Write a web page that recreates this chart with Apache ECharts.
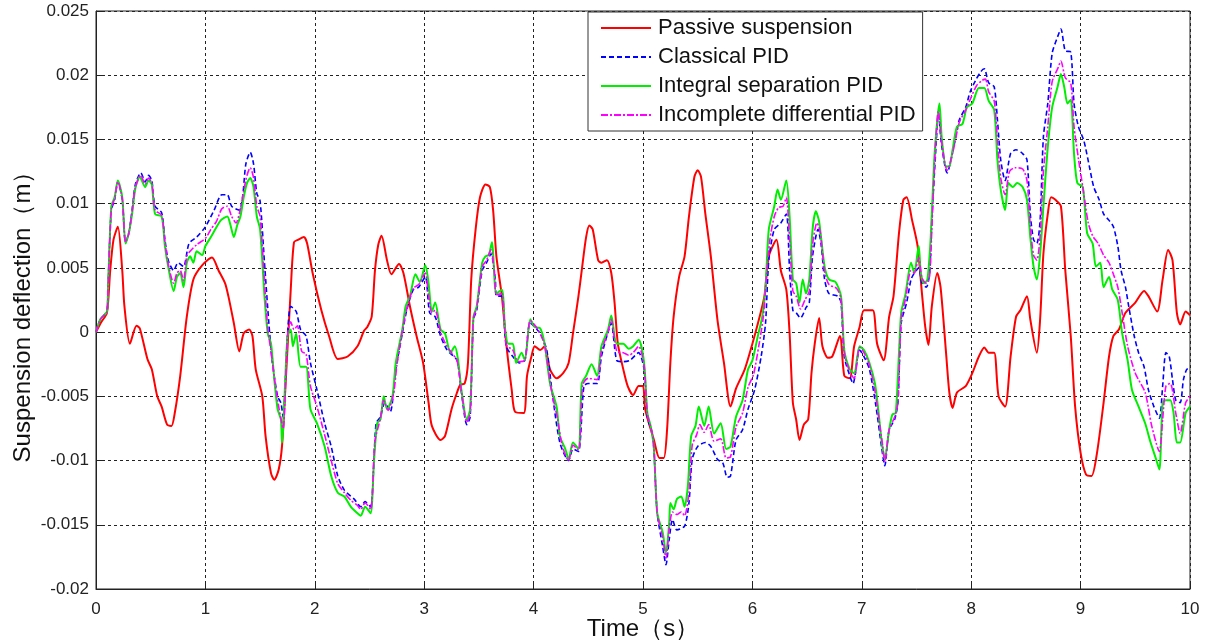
<!DOCTYPE html>
<html><head><meta charset="utf-8">
<script src="https://cdn.jsdelivr.net/npm/echarts@6/dist/echarts.min.js"></script>
<style>html,body{margin:0;padding:0;background:#fff}#c{width:1208px;height:643px}</style>
</head><body><div id="c"></div>
<script>
const seriesNames = ['Passive suspension','Classical PID','Integral separation PID','Incomplete differential PID'];
const xTicks = [0,1,2,3,4,5,6,7,8,9,10];
const yTicks = [-0.02,-0.015,-0.01,-0.005,0,0.005,0.01,0.015,0.02,0.025];

const passive = [[0,0],[0.05,0.0008],[0.1,0.0015],[0.13,0.0048],[0.16,0.0072],[0.2,0.0082],[0.24,0.0048],[0.26,0.002],[0.31,-0.0009],[0.37,0.0005],[0.4,0.0003],[0.47,-0.0021],[0.51,-0.0029],[0.56,-0.005],[0.6,-0.0058],[0.65,-0.0072],[0.69,-0.0073],[0.72,-0.0063],[0.77,-0.0034],[0.83,0.0012],[0.89,0.0041],[0.97,0.0052],[1.06,0.0058],[1.12,0.0048],[1.18,0.0038],[1.21,0.0028],[1.26,0.0007],[1.31,-0.0015],[1.35,-0.0001],[1.4,0.0002],[1.43,-0.0003],[1.46,-0.0029],[1.52,-0.005],[1.55,-0.0081],[1.6,-0.011],[1.63,-0.0115],[1.67,-0.0107],[1.7,-0.0089],[1.73,-0.0045],[1.78,0.0033],[1.81,0.007],[1.85,0.0072],[1.9,0.0074],[1.93,0.0069],[1.98,0.0046],[2.06,0.0017],[2.13,-0.0003],[2.21,-0.0021],[2.3,-0.0019],[2.39,-0.0011],[2.45,0.0001],[2.48,0.0004],[2.52,0.0012],[2.55,0.0048],[2.58,0.0068],[2.61,0.0075],[2.66,0.0056],[2.7,0.0045],[2.77,0.0053],[2.81,0.0046],[2.87,0.002],[2.93,-0.0003],[2.99,-0.0024],[3.04,-0.0055],[3.07,-0.0073],[3.15,-0.0084],[3.19,-0.0081],[3.25,-0.006],[3.3,-0.0047],[3.33,-0.0041],[3.37,-0.004],[3.4,-0.0024],[3.43,0.0041],[3.47,0.008],[3.51,0.0105],[3.56,0.0115],[3.6,0.0113],[3.63,0.0095],[3.66,0.0059],[3.71,0.0028],[3.75,-0.0009],[3.8,-0.0045],[3.83,-0.0062],[3.91,-0.0063],[3.94,-0.0034],[3.98,-0.0019],[4.01,-0.0011],[4.06,-0.0014],[4.1,-0.0011],[4.15,-0.0029],[4.21,-0.0036],[4.27,-0.0032],[4.32,-0.0024],[4.36,-0.0001],[4.41,0.0028],[4.44,0.0048],[4.48,0.0074],[4.51,0.0083],[4.54,0.008],[4.59,0.0056],[4.62,0.0054],[4.67,0.0056],[4.71,0.0046],[4.74,0.0023],[4.77,-0.0009],[4.82,-0.0029],[4.86,-0.0042],[4.91,-0.0049],[4.96,-0.0042],[5.0,-0.0042],[5.02,-0.006],[5.1,-0.0084],[5.15,-0.0098],[5.19,-0.0098],[5.22,-0.0076],[5.25,-0.0024],[5.28,0.0012],[5.33,0.0043],[5.38,0.0059],[5.42,0.009],[5.47,0.0121],[5.5,0.0126],[5.53,0.0121],[5.57,0.0092],[5.62,0.0059],[5.68,0.001],[5.74,-0.0024],[5.8,-0.0058],[5.85,-0.0044],[5.93,-0.0029],[6.0,-0.0009],[6.06,0.001],[6.11,0.0028],[6.15,0.0059],[6.22,0.0072],[6.26,0.0048],[6.31,0.0033],[6.34,-0.0001],[6.37,-0.0055],[6.4,-0.0068],[6.43,-0.0084],[6.47,-0.0072],[6.51,-0.0068],[6.54,-0.0032],[6.57,-0.0009],[6.61,0.0011],[6.64,-0.0011],[6.69,-0.002],[6.73,-0.0019],[6.8,-0.0003],[6.84,-0.0034],[6.89,-0.0036],[6.93,-0.0011],[6.98,0.0004],[7.02,0.0017],[7.1,0.0017],[7.14,-0.0009],[7.2,-0.0022],[7.25,0.0012],[7.29,0.0028],[7.34,0.0077],[7.38,0.0103],[7.41,0.0105],[7.46,0.0087],[7.51,0.0067],[7.55,0.003],[7.58,0.0004],[7.61,-0.001],[7.64,0.002],[7.69,0.0046],[7.72,0.0035],[7.77,-0.0016],[7.8,-0.0047],[7.83,-0.0059],[7.87,-0.0047],[7.95,-0.0042],[8.01,-0.0032],[8.07,-0.0019],[8.12,-0.0012],[8.16,-0.0016],[8.21,-0.0016],[8.25,-0.005],[8.31,-0.0058],[8.36,-0.0019],[8.41,0.0012],[8.45,0.0017],[8.51,0.0028],[8.54,0.001],[8.6,-0.0016],[8.63,0.001],[8.66,0.0061],[8.7,0.0092],[8.73,0.0105],[8.77,0.0103],[8.82,0.0098],[8.86,0.0048],[8.91,-0.0003],[8.95,-0.0058],[9.0,-0.0094],[9.05,-0.0111],[9.1,-0.0112],[9.15,-0.0094],[9.21,-0.0055],[9.26,-0.0019],[9.3,-0.0003],[9.35,0.0002],[9.41,0.0015],[9.5,0.0023],[9.58,0.0032],[9.62,0.0028],[9.7,0.0016],[9.75,0.0041],[9.8,0.0064],[9.84,0.0056],[9.88,0.0015],[9.91,0.0006],[9.96,0.0016],[10,0.0013]];

const classicalPID = [[0,0],[0.04,0.001],[0.1,0.0016],[0.11,0.0035],[0.14,0.0095],[0.17,0.0103],[0.2,0.0117],[0.24,0.0103],[0.27,0.007],[0.3,0.0077],[0.33,0.0095],[0.36,0.0115],[0.41,0.0124],[0.45,0.0117],[0.48,0.0122],[0.51,0.0118],[0.54,0.0098],[0.6,0.0093],[0.63,0.0072],[0.66,0.0056],[0.71,0.0048],[0.75,0.0054],[0.8,0.0051],[0.85,0.0069],[0.92,0.0074],[1.0,0.0082],[1.08,0.0095],[1.15,0.0107],[1.2,0.0107],[1.24,0.0098],[1.31,0.0095],[1.34,0.0105],[1.37,0.0131],[1.41,0.014],[1.44,0.0131],[1.47,0.0108],[1.5,0.0102],[1.54,0.0054],[1.58,0.0007],[1.61,-0.0022],[1.66,-0.005],[1.69,-0.0055],[1.71,-0.0066],[1.75,-0.0003],[1.78,0.002],[1.83,0.0016],[1.87,0.0002],[1.92,-0.0003],[1.96,-0.0024],[2.02,-0.0045],[2.09,-0.0071],[2.15,-0.0089],[2.21,-0.0112],[2.27,-0.0123],[2.36,-0.013],[2.42,-0.0136],[2.46,-0.0132],[2.51,-0.0136],[2.56,-0.0071],[2.6,-0.0066],[2.64,-0.0055],[2.69,-0.0062],[2.74,-0.0029],[2.8,-0.0001],[2.84,0.0017],[2.9,0.0033],[2.95,0.0035],[3.01,0.0043],[3.05,0.0015],[3.1,0.0012],[3.15,-0.0003],[3.21,-0.0014],[3.3,-0.0022],[3.34,-0.0047],[3.39,-0.0072],[3.42,-0.0066],[3.45,0.001],[3.48,0.0017],[3.53,0.0048],[3.57,0.0054],[3.61,0.0061],[3.65,0.0041],[3.66,0.0028],[3.71,0.0028],[3.75,-0.0011],[3.81,-0.0019],[3.87,-0.0024],[3.92,-0.0022],[3.97,0.0007],[4.06,-0.0001],[4.12,-0.0014],[4.17,-0.0047],[4.24,-0.0086],[4.32,-0.01],[4.36,-0.0091],[4.41,-0.0093],[4.46,-0.0042],[4.5,-0.004],[4.58,-0.004],[4.62,-0.0019],[4.67,-0.0003],[4.71,0.0007],[4.76,-0.0022],[4.82,-0.0023],[4.88,-0.0022],[4.96,-0.0016],[5.01,-0.0029],[5.04,-0.0066],[5.09,-0.0081],[5.13,-0.0141],[5.18,-0.0167],[5.21,-0.0181],[5.24,-0.0161],[5.27,-0.0146],[5.31,-0.0154],[5.38,-0.0151],[5.42,-0.0133],[5.45,-0.0099],[5.5,-0.0089],[5.57,-0.0086],[5.62,-0.0089],[5.68,-0.0099],[5.73,-0.0102],[5.77,-0.0113],[5.8,-0.0112],[5.85,-0.0084],[5.91,-0.0076],[5.96,-0.006],[6.02,-0.0045],[6.08,-0.0019],[6.12,0.0007],[6.15,0.0056],[6.2,0.008],[6.26,0.0085],[6.31,0.0092],[6.34,0.0048],[6.37,0.0017],[6.4,0.0015],[6.44,0.0011],[6.49,0.0019],[6.52,0.0023],[6.55,0.0059],[6.6,0.008],[6.63,0.0067],[6.66,0.0041],[6.7,0.003],[6.78,0.0028],[6.81,0.0023],[6.84,-0.0019],[6.89,-0.0034],[6.92,-0.004],[6.98,-0.0014],[7.02,-0.0019],[7.07,-0.0029],[7.13,-0.0058],[7.18,-0.0089],[7.21,-0.0104],[7.25,-0.0076],[7.3,-0.0068],[7.33,-0.0055],[7.36,0.0007],[7.41,0.0023],[7.45,0.0041],[7.48,0.0046],[7.52,0.005],[7.55,0.0038],[7.59,0.0035],[7.62,0.0046],[7.64,0.0087],[7.68,0.0147],[7.7,0.017],[7.73,0.0145],[7.78,0.0124],[7.84,0.0144],[7.89,0.0165],[7.95,0.0175],[7.99,0.0187],[8.04,0.0196],[8.09,0.0203],[8.12,0.0205],[8.16,0.0194],[8.21,0.0191],[8.24,0.0165],[8.27,0.0134],[8.31,0.0118],[8.36,0.0139],[8.41,0.0142],[8.47,0.0139],[8.51,0.0134],[8.54,0.0092],[8.57,0.0072],[8.6,0.0069],[8.63,0.0087],[8.66,0.0152],[8.7,0.0178],[8.74,0.0217],[8.79,0.023],[8.82,0.0236],[8.86,0.0219],[8.91,0.0218],[8.94,0.0178],[8.98,0.016],[9.03,0.0149],[9.08,0.0129],[9.12,0.0113],[9.17,0.0103],[9.21,0.0092],[9.26,0.0087],[9.3,0.0082],[9.34,0.0067],[9.37,0.0048],[9.41,0.0035],[9.44,0.002],[9.49,-0.0003],[9.53,-0.0016],[9.58,-0.0027],[9.62,-0.0045],[9.67,-0.0058],[9.72,-0.0067],[9.75,-0.0042],[9.78,-0.0016],[9.81,-0.0019],[9.84,-0.0037],[9.87,-0.0053],[9.91,-0.0055],[9.94,-0.0037],[9.97,-0.0029],[10,-0.0028]];

const integralSepPID = [[0,0],[0.04,0.001],[0.1,0.0016],[0.11,0.0035],[0.14,0.0098],[0.17,0.0105],[0.2,0.0118],[0.24,0.0105],[0.27,0.0069],[0.3,0.0077],[0.33,0.0092],[0.36,0.0112],[0.4,0.0121],[0.45,0.0113],[0.48,0.0118],[0.51,0.0115],[0.54,0.0092],[0.6,0.009],[0.63,0.0067],[0.66,0.0051],[0.71,0.0032],[0.74,0.0043],[0.77,0.0046],[0.8,0.0035],[0.83,0.0054],[0.86,0.0059],[0.89,0.0054],[0.92,0.0063],[0.97,0.006],[1.0,0.0067],[1.05,0.0074],[1.09,0.008],[1.14,0.0087],[1.2,0.009],[1.23,0.0083],[1.26,0.0074],[1.29,0.0083],[1.32,0.009],[1.35,0.0105],[1.38,0.0116],[1.41,0.012],[1.44,0.0113],[1.47,0.009],[1.5,0.008],[1.54,0.0028],[1.57,-0.0001],[1.6,-0.0009],[1.63,-0.0037],[1.66,-0.006],[1.69,-0.0068],[1.7,-0.0086],[1.75,-0.0003],[1.78,0.0002],[1.8,-0.0011],[1.83,-0.0001],[1.87,-0.0027],[1.92,-0.0027],[1.96,-0.006],[2.02,-0.0071],[2.09,-0.0089],[2.15,-0.0112],[2.21,-0.0125],[2.27,-0.0128],[2.33,-0.0136],[2.39,-0.0141],[2.42,-0.0143],[2.46,-0.0136],[2.51,-0.0141],[2.54,-0.0102],[2.57,-0.0071],[2.6,-0.0068],[2.63,-0.005],[2.66,-0.006],[2.71,-0.005],[2.74,-0.0024],[2.8,0.0002],[2.83,0.002],[2.87,0.0028],[2.92,0.0045],[2.96,0.0039],[3.01,0.0052],[3.04,0.0038],[3.07,0.0016],[3.1,0.0023],[3.15,0.0002],[3.19,-0.0001],[3.24,-0.0016],[3.28,-0.0011],[3.31,-0.0022],[3.34,-0.0045],[3.39,-0.0068],[3.42,-0.006],[3.45,0.0012],[3.48,0.002],[3.53,0.0054],[3.56,0.0059],[3.59,0.006],[3.62,0.007],[3.63,0.0061],[3.66,0.003],[3.71,0.0033],[3.74,0.0002],[3.77,-0.0009],[3.81,-0.0009],[3.84,-0.0024],[3.89,-0.0016],[3.92,-0.0022],[3.97,0.001],[4.01,0.0004],[4.06,0.0003],[4.1,-0.0009],[4.15,-0.004],[4.21,-0.0058],[4.24,-0.0081],[4.29,-0.0091],[4.32,-0.0099],[4.36,-0.0086],[4.41,-0.0091],[4.44,-0.004],[4.48,-0.0034],[4.53,-0.0025],[4.58,-0.0034],[4.62,-0.0011],[4.68,0.0002],[4.71,0.0013],[4.76,-0.0009],[4.82,-0.0009],[4.87,-0.0013],[4.91,-0.0011],[4.96,-0.0006],[5.01,-0.0024],[5.04,-0.0063],[5.07,-0.0073],[5.1,-0.0091],[5.13,-0.0141],[5.18,-0.0156],[5.21,-0.0172],[5.24,-0.0148],[5.25,-0.0133],[5.28,-0.0138],[5.31,-0.013],[5.35,-0.0128],[5.38,-0.0136],[5.41,-0.012],[5.44,-0.0081],[5.48,-0.0073],[5.51,-0.0058],[5.56,-0.0073],[5.6,-0.0058],[5.65,-0.0079],[5.71,-0.0071],[5.76,-0.0091],[5.8,-0.0089],[5.85,-0.0066],[5.91,-0.0053],[5.96,-0.0029],[6.0,-0.0022],[6.05,-0.0003],[6.09,0.0012],[6.12,0.0035],[6.15,0.008],[6.2,0.0098],[6.23,0.0111],[6.26,0.0103],[6.31,0.0118],[6.34,0.009],[6.37,0.0041],[6.4,0.0038],[6.43,0.0023],[6.46,0.0041],[6.49,0.003],[6.52,0.0041],[6.55,0.008],[6.58,0.0094],[6.61,0.0086],[6.66,0.0051],[6.7,0.0041],[6.76,0.0039],[6.81,0.0028],[6.84,-0.0014],[6.89,-0.0029],[6.93,-0.0032],[6.98,-0.0011],[7.02,-0.0014],[7.07,-0.0024],[7.12,-0.004],[7.15,-0.006],[7.18,-0.0084],[7.21,-0.0099],[7.25,-0.0076],[7.28,-0.0064],[7.31,-0.0063],[7.34,-0.0016],[7.36,0.0015],[7.4,0.003],[7.45,0.0054],[7.48,0.0046],[7.52,0.0067],[7.54,0.0046],[7.57,0.0038],[7.6,0.0041],[7.63,0.0074],[7.66,0.0131],[7.69,0.0165],[7.71,0.0178],[7.73,0.0152],[7.77,0.0129],[7.8,0.0129],[7.83,0.0142],[7.87,0.016],[7.92,0.0162],[7.96,0.0175],[8.01,0.0178],[8.07,0.019],[8.12,0.019],[8.16,0.018],[8.21,0.0173],[8.24,0.0134],[8.27,0.0111],[8.31,0.0095],[8.34,0.0116],[8.38,0.0113],[8.42,0.0116],[8.47,0.0113],[8.51,0.0103],[8.54,0.0074],[8.57,0.0051],[8.6,0.0041],[8.63,0.0061],[8.66,0.0098],[8.7,0.0144],[8.74,0.0175],[8.79,0.0191],[8.82,0.0201],[8.85,0.0191],[8.88,0.0178],[8.91,0.0181],[8.94,0.0139],[8.97,0.0116],[9.02,0.0113],[9.06,0.0077],[9.11,0.0069],[9.14,0.0051],[9.18,0.0054],[9.21,0.0035],[9.26,0.0043],[9.29,0.0033],[9.34,0.0025],[9.38,-0.0001],[9.43,-0.0022],[9.47,-0.0045],[9.53,-0.0058],[9.59,-0.0071],[9.64,-0.0086],[9.69,-0.0099],[9.72,-0.0107],[9.75,-0.0055],[9.78,-0.0053],[9.82,-0.0053],[9.85,-0.0063],[9.88,-0.0086],[9.91,-0.0086],[9.96,-0.0063],[10,-0.0058]];

const incompleteDiffPID = [[0,0],[0.04,0.001],[0.1,0.0016],[0.11,0.0035],[0.14,0.0096],[0.17,0.0104],[0.2,0.0117],[0.24,0.0104],[0.27,0.007],[0.3,0.0077],[0.33,0.0094],[0.36,0.0113],[0.41,0.0122],[0.45,0.0115],[0.48,0.012],[0.51,0.0116],[0.54,0.0095],[0.6,0.0091],[0.63,0.007],[0.66,0.0053],[0.71,0.0038],[0.74,0.0046],[0.77,0.0048],[0.8,0.004],[0.83,0.0059],[0.86,0.0063],[0.92,0.0068],[1.0,0.0073],[1.05,0.008],[1.1,0.0086],[1.15,0.0096],[1.2,0.0098],[1.24,0.009],[1.28,0.0085],[1.32,0.0096],[1.35,0.011],[1.38,0.0122],[1.41,0.0128],[1.44,0.012],[1.47,0.0098],[1.5,0.009],[1.54,0.004],[1.57,0.0003],[1.6,-0.0015],[1.64,-0.0042],[1.67,-0.0058],[1.71,-0.0075],[1.75,-0.0003],[1.78,0.0008],[1.81,0.0002],[1.84,0.0005],[1.88,-0.0015],[1.92,-0.0017],[1.96,-0.0042],[2.02,-0.0058],[2.09,-0.008],[2.15,-0.01],[2.21,-0.0118],[2.27,-0.0125],[2.33,-0.0131],[2.39,-0.0135],[2.42,-0.0138],[2.46,-0.0133],[2.51,-0.0138],[2.55,-0.0085],[2.6,-0.0067],[2.63,-0.0053],[2.67,-0.0061],[2.72,-0.0048],[2.75,-0.0026],[2.8,0.0001],[2.84,0.0018],[2.9,0.0034],[2.95,0.0037],[3.01,0.0046],[3.04,0.0028],[3.07,0.0015],[3.1,0.0017],[3.15,0],[3.2,-0.001],[3.25,-0.0016],[3.3,-0.0022],[3.34,-0.0046],[3.39,-0.007],[3.42,-0.0063],[3.45,0.0011],[3.48,0.0019],[3.53,0.0051],[3.57,0.0056],[3.61,0.0064],[3.64,0.0048],[3.66,0.0029],[3.71,0.003],[3.75,-0.001],[3.81,-0.0014],[3.86,-0.0023],[3.92,-0.0022],[3.97,0.0009],[4.04,0.0002],[4.1,-0.001],[4.16,-0.0044],[4.22,-0.0068],[4.26,-0.0088],[4.32,-0.01],[4.36,-0.0088],[4.41,-0.0092],[4.45,-0.0041],[4.5,-0.0036],[4.58,-0.0037],[4.62,-0.0015],[4.68,0],[4.71,0.001],[4.76,-0.0015],[4.82,-0.0016],[4.87,-0.0018],[4.91,-0.0016],[4.96,-0.0011],[5.01,-0.0026],[5.04,-0.0064],[5.08,-0.0077],[5.1,-0.009],[5.13,-0.0141],[5.18,-0.016],[5.21,-0.0176],[5.24,-0.0153],[5.27,-0.014],[5.31,-0.0142],[5.35,-0.014],[5.38,-0.0143],[5.42,-0.0125],[5.45,-0.0088],[5.49,-0.008],[5.52,-0.0072],[5.56,-0.0078],[5.6,-0.0072],[5.65,-0.0085],[5.71,-0.0083],[5.76,-0.0098],[5.8,-0.0097],[5.85,-0.0074],[5.91,-0.0063],[5.96,-0.0043],[6.01,-0.0033],[6.06,-0.001],[6.1,0.0012],[6.13,0.0045],[6.16,0.0072],[6.2,0.009],[6.24,0.0097],[6.28,0.0098],[6.31,0.0105],[6.34,0.0072],[6.37,0.0032],[6.4,0.0028],[6.44,0.0018],[6.48,0.0025],[6.52,0.0032],[6.55,0.0068],[6.59,0.0085],[6.62,0.0078],[6.66,0.0047],[6.7,0.0037],[6.77,0.0034],[6.81,0.0026],[6.84,-0.0016],[6.89,-0.0031],[6.93,-0.0036],[6.98,-0.0012],[7.02,-0.0016],[7.07,-0.0026],[7.12,-0.0046],[7.16,-0.007],[7.19,-0.0088],[7.21,-0.0101],[7.25,-0.0076],[7.3,-0.0066],[7.33,-0.0055],[7.36,0.001],[7.4,0.0026],[7.45,0.0048],[7.48,0.0046],[7.52,0.0058],[7.55,0.0042],[7.59,0.0038],[7.62,0.0044],[7.64,0.008],[7.67,0.014],[7.7,0.0172],[7.73,0.0148],[7.78,0.0126],[7.84,0.0143],[7.89,0.0163],[7.95,0.0173],[8.0,0.0183],[8.05,0.0192],[8.1,0.0196],[8.13,0.0197],[8.16,0.0187],[8.21,0.018],[8.24,0.015],[8.27,0.012],[8.31,0.0107],[8.35,0.0125],[8.4,0.0128],[8.47,0.0127],[8.51,0.0118],[8.54,0.0083],[8.57,0.006],[8.6,0.0056],[8.63,0.0075],[8.66,0.0125],[8.7,0.016],[8.74,0.0195],[8.79,0.0205],[8.82,0.0211],[8.86,0.0198],[8.91,0.0194],[8.94,0.016],[8.98,0.0135],[9.02,0.0113],[9.07,0.0085],[9.11,0.0075],[9.16,0.0069],[9.21,0.006],[9.26,0.0054],[9.3,0.0045],[9.34,0.0035],[9.38,0.0015],[9.43,-0.0011],[9.5,-0.0032],[9.59,-0.0047],[9.65,-0.0073],[9.72,-0.0093],[9.75,-0.0068],[9.78,-0.0042],[9.82,-0.004],[9.87,-0.0063],[9.91,-0.0079],[9.96,-0.0055],[10,-0.005]];

const FONT = '"Liberation Sans", Arial, sans-serif';
const chart = echarts.init(document.getElementById('c'), null, {renderer:'canvas'});
const gridLine = {show:true, lineStyle:{color:'#222', type:[3,3], width:1}};
const fmtY = v => String(parseFloat(v.toFixed(4)));
const seriesData = [passive, classicalPID, integralSepPID, incompleteDiffPID];
const styles = [
  {color:'#ff0000', width:2, type:'solid'},
  {color:'#0000ff', width:1.6, type:[5,3]},
  {color:'#00ee00', width:2, type:'solid'},
  {color:'#ff00ff', width:1.6, type:[7,2,2,2]}
];
chart.setOption({
  animation:false,
  backgroundColor:'#fff',
  textStyle:{fontFamily:FONT},
  grid:{left:96, right:18, top:11, bottom:54, show:true, borderColor:'#222', borderWidth:1, containLabel:false, outerBoundsMode:'none'},
  legend:{
    orient:'vertical', left:588, top:12, backgroundColor:'#fff', borderColor:'#333', borderWidth:1,
    padding:[5,7,5,12], itemGap:7, itemWidth:50, itemHeight:22, borderRadius:0,
    itemStyle:{opacity:0},
    textStyle:{fontSize:22, color:'#111', fontFamily:FONT, padding:[0,0,0,2]},
    data:seriesNames
  },
  xAxis:{
    type:'value', min:0, max:10, interval:1,
    name:'Time（s）', nameLocation:'middle', nameGap:28, nameMoveOverlap:false,
    nameTextStyle:{fontSize:24, color:'#111', fontFamily:FONT},
    axisLine:{show:true, onZero:false, lineStyle:{color:'#222'}},
    axisTick:{show:true, inside:true, length:6, lineStyle:{color:'#222'}},
    axisLabel:{fontSize:17, color:'#222', margin:12, formatter:v=>String(v)},
    splitLine:gridLine
  },
  yAxis:{
    type:'value', min:-0.02, max:0.025, interval:0.005,
    name:'Suspension deflection（m）', nameLocation:'middle', nameGap:61, nameMoveOverlap:false,
    nameTextStyle:{fontSize:24, color:'#111', fontFamily:FONT, padding:[0,22,0,0]},
    axisLine:{show:true, onZero:false, lineStyle:{color:'#222'}},
    axisTick:{show:true, inside:true, length:6, lineStyle:{color:'#222'}},
    axisLabel:{fontSize:17, color:'#222', margin:7, formatter:fmtY},
    splitLine:gridLine
  },
  series: seriesNames.map((n,i)=>({
    name:n, type:'line', data:seriesData[i], showSymbol:false, symbol:'none',
    smooth:0.25, itemStyle:{color:styles[i].color},
    lineStyle:{color:styles[i].color, width:styles[i].width, type:styles[i].type},
    z:2+i
  }))
});
</script></body></html>
